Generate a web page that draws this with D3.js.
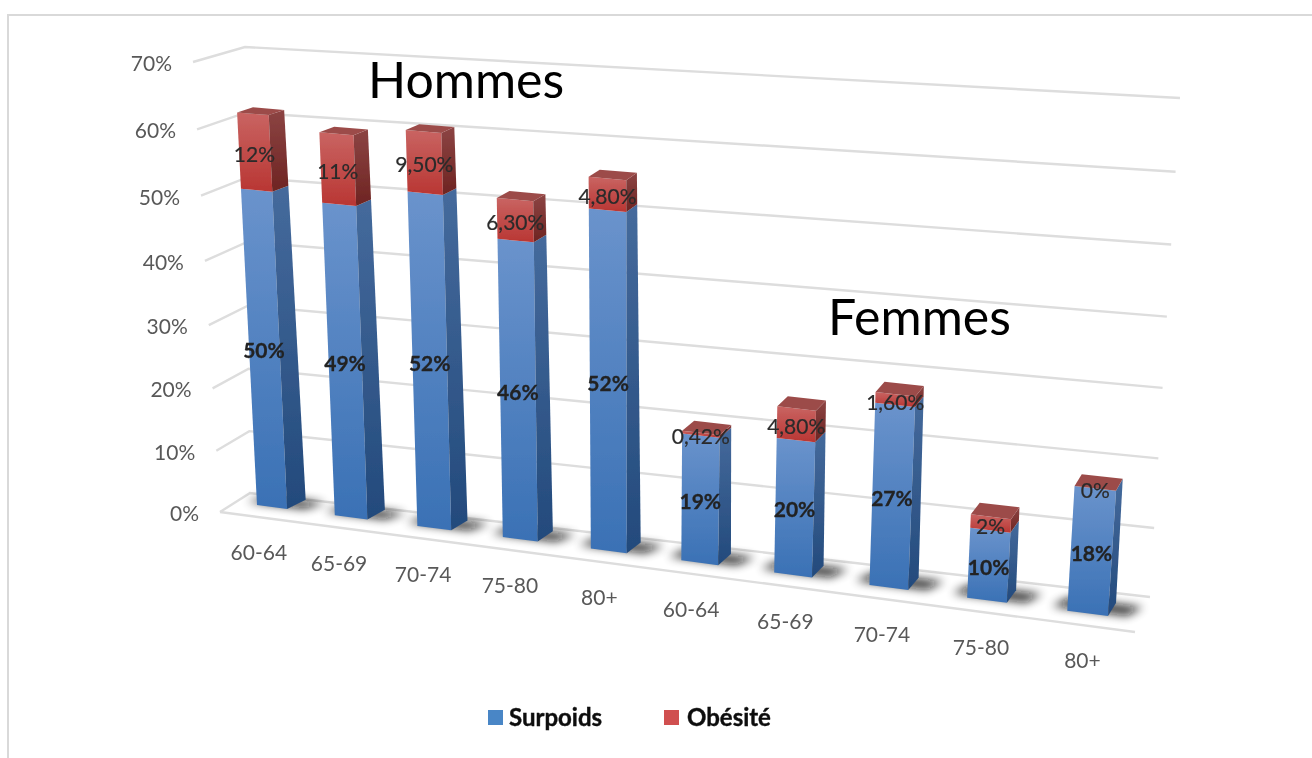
<!DOCTYPE html>
<html>
<head>
<meta charset="utf-8">
<script src="https://d3js.org/d3.v7.min.js"></script>
<style>
html, body { margin: 0; background: #fff; }
text { font-family: Lato, Carlito, "Open Sans", sans-serif; }
</style>
</head>
<body>
<svg width="1312" height="758"></svg>
<script>
var categories = ["60-64", "65-69", "70-74", "75-80", "80+", "60-64", "65-69", "70-74", "75-80", "80+"];
var surpoids = [50, 49, 52, 46, 52, 19, 20, 27, 10, 18];
var obesite = [12, 11, 9.5, 6.3, 4.8, 0.42, 4.8, 1.6, 2, 0];
var surpoidsLabels = ["50%", "49%", "52%", "46%", "52%", "19%", "20%", "27%", "10%", "18%"];
var obesiteLabels = ["12%", "11%", "9,50%", "6,30%", "4,80%", "0,42%", "4,80%", "1,60%", "2%", "0%"];
var ticks = [0, 10, 20, 30, 40, 50, 60, 70];

var root = d3.select("svg");
var defs = root.append("defs");

function grad(id, top, bottom) {
    var g = defs.append("linearGradient").attr("id", id)
        .attr("x1", 0).attr("y1", 0).attr("x2", 0).attr("y2", 1);
    g.append("stop").attr("offset", "0%").attr("stop-color", top);
    g.append("stop").attr("offset", "100%").attr("stop-color", bottom);
}
grad("blueFront", "#6a93cc", "#3a71b5");
grad("blueSide", "#456a9c", "#234a7c");
grad("redFront", "#c96462", "#b93633");
grad("redSide", "#8c4443", "#6e2422");

defs.append("filter").attr("id", "shadowBlur")
    .attr("x", "-40%").attr("y", "-150%").attr("width", "180%").attr("height", "400%")
    .append("feGaussianBlur").attr("stdDeviation", 5);
defs.append("filter").attr("id", "soft")
    .attr("filterUnits", "userSpaceOnUse")
    .attr("x", 0).attr("y", 0).attr("width", 1312).attr("height", 758)
    .append("feGaussianBlur").attr("stdDeviation", 0.55);

var svg = root.append("g").attr("filter", "url(#soft)");

// unit square -> quad (corners: u0v0, u1v0, u1v1, u0v1)
function homography(p) {
    var dx1 = p[1][0] - p[2][0], dx2 = p[3][0] - p[2][0], sx = p[0][0] - p[1][0] + p[2][0] - p[3][0];
    var dy1 = p[1][1] - p[2][1], dy2 = p[3][1] - p[2][1], sy = p[0][1] - p[1][1] + p[2][1] - p[3][1];
    var det = dx1 * dy2 - dx2 * dy1;
    var g = (sx * dy2 - dx2 * sy) / det, h = (dx1 * sy - sx * dy1) / det;
    var a = p[1][0] - p[0][0] + g * p[1][0], b = p[3][0] - p[0][0] + h * p[3][0];
    var d = p[1][1] - p[0][1] + g * p[1][1], e = p[3][1] - p[0][1] + h * p[3][1];
    return function(u, v) {
        var w = g * u + h * v + 1;
        return [(a * u + b * v + p[0][0]) / w, (d * u + e * v + p[0][1]) / w];
    };
}

// box planes for the walls, separate planes for the bars (excel's 3d isn't quite consistent)
var wallFront = homography([[220, 512], [1135, 632], [1163, 127], [193, 62]]);
var wallBack = homography([[250, 493], [1150, 597], [1180, 98], [245, 47]]);
var barFront = homography([[257, 505], [1108, 616], [1139, 133], [234.5, 61]]);
var barBack = homography([[276, 496], [1116, 603], [1142, 124], [250, 56.5]]);

var yScale = d3.scaleLinear().domain([0, 70]).range([0, 1]);
var xScale = d3.scaleBand().domain(d3.range(categories.length)).range([0, 1]).paddingInner(0.6).paddingOuter(0);
// bars bunch up a little more on the left than the plane alone gives
var xWarp = d3.scalePow().exponent(1.03).domain([0, 1]).range([0, 1]);
// and the plane squeezes low values too much
var yWarp = d3.scalePow().exponent(0.96).domain([0, 1]).range([0, 1]);

function lerpPlanes(f, b, z) {
    return [f[0] + (b[0] - f[0]) * z, f[1] + (b[1] - f[1]) * z];
}
function wall(u, value, z) {
    var v = yScale(value);
    return lerpPlanes(wallFront(u, v), wallBack(u, v), z);
}
function bar(u, value, z) {
    var v = yWarp(yScale(value)), w = u > 0 ? xWarp(u) : u;
    return lerpPlanes(barFront(w, v), barBack(w, v), z);
}

var line = d3.line();
function poly(parent, pts, fill) {
    return parent.append("path").attr("d", line(pts) + "Z").attr("fill", fill);
}

// walls
var grid = svg.append("g").attr("fill", "none").attr("stroke", "#dddddd").attr("stroke-width", 2.4);
ticks.forEach(function(t) {
    grid.append("path").attr("d", line([wall(0, t, 0), wall(0, t, 1), wall(1, t, 1)]));
});
grid.append("path").attr("d", line([wall(0, 0, 0), wall(1, 0, 0)]));

// axis labels
svg.append("g").selectAll("text").data(ticks).enter().append("text")
    .attr("x", function(d) { return wall(0, d, 0)[0] - 21; })
    .attr("y", function(d) { return wall(0, d, 0)[1] + 9; })
    .attr("text-anchor", "end")
    .attr("font-size", 21)
    .attr("fill", "#595959")
    .text(function(d) { return d + "%"; });

svg.append("g").selectAll("text").data(categories).enter().append("text")
    .attr("x", function(d, i) {
        var u = xScale(i) + xScale.bandwidth() / 2;
        return bar(u, 0, 0)[0] - 13 + 8 * u;
    })
    .attr("y", function(d, i) {
        var u = xScale(i) + xScale.bandwidth() / 2;
        return bar(u, 0, 0)[1] + 53 + 2 * u;
    })
    .attr("text-anchor", "middle")
    .attr("font-size", 21)
    .attr("fill", "#595959")
    .text(function(d) { return d; });

// shadows on the floor
var shadows = svg.append("g");
categories.forEach(function(c, i) {
    var x0 = xScale(i), x1 = x0 + xScale.bandwidth(), m = xScale.bandwidth() * 0.42;
    poly(shadows, [bar(x0 - m, 0, 0.2), bar(x1 + m, 0, 0.2),
        bar(x1 + m * 1.6, 0, 0.95), bar(x0 - m * 0.4, 0, 0.95)], "#111")
        .attr("opacity", 0.85)
        .attr("filter", "url(#shadowBlur)");
});

// bars
var bars = svg.append("g");
categories.forEach(function(c, i) {
    var x0 = xScale(i), x1 = x0 + xScale.bandwidth();
    var top = surpoids[i] + obesite[i];
    poly(bars, [bar(x0, 0, 0), bar(x1, 0, 0), bar(x1, surpoids[i], 0), bar(x0, surpoids[i], 0)], "url(#blueFront)");
    poly(bars, [bar(x1, 0, 0), bar(x1, 0, 1), bar(x1, surpoids[i], 1), bar(x1, surpoids[i], 0)], "url(#blueSide)");
    poly(bars, [bar(x0, surpoids[i], 0), bar(x1, surpoids[i], 0), bar(x1, top, 0), bar(x0, top, 0)], "url(#redFront)");
    poly(bars, [bar(x1, surpoids[i], 0), bar(x1, surpoids[i], 1), bar(x1, top, 1), bar(x1, top, 0)], "url(#redSide)");
    poly(bars, [bar(x0, top, 0), bar(x1, top, 0), bar(x1, top, 1), bar(x0, top, 1)], "#9c4c4a");
});

// data labels
var dataLabels = svg.append("g").attr("text-anchor", "middle").attr("font-size", 21);
categories.forEach(function(c, i) {
    var mid = xScale(i) + xScale.bandwidth() / 2;
    var p = bar(mid, surpoids[i] / 2, 0);
    dataLabels.append("text").attr("x", p[0]).attr("y", p[1] + 11)
        .attr("font-weight", "bold").attr("fill", "#222")
        .attr("stroke", "#222").attr("stroke-width", 0.3).text(surpoidsLabels[i]);
    var q = bar(mid, surpoids[i] + obesite[i] / 2, 0);
    dataLabels.append("text").attr("x", q[0]).attr("y", q[1] + 10)
        .attr("fill", "#2b2b2b").attr("stroke", "#2b2b2b").attr("stroke-width", 0.2).text(obesiteLabels[i]);
});

// titles
svg.append("text").attr("x", 368).attr("y", 98).attr("font-size", 50).attr("fill", "#000").text("Hommes");
svg.append("text").attr("x", 828).attr("y", 335).attr("font-size", 50).attr("fill", "#000").text("Femmes");

// legend
var legend = svg.append("g").attr("font-size", 24).attr("font-weight", "bold").attr("fill", "#111")
    .attr("stroke", "#111").attr("stroke-width", 0.4);
legend.append("rect").attr("x", 488).attr("y", 710).attr("width", 15).attr("height", 15).attr("fill", "#4a86c6").attr("stroke", "none");
legend.append("text").attr("x", 509).attr("y", 726).text("Surpoids");
legend.append("rect").attr("x", 664).attr("y", 710).attr("width", 15).attr("height", 15).attr("fill", "#d05050").attr("stroke", "none");
legend.append("text").attr("x", 687).attr("y", 726).text("Obésité");

// frame
svg.append("path").attr("d", "M8,758V15H1312").attr("fill", "none").attr("stroke", "#d9d9d9").attr("stroke-width", 2);
</script>
</body>
</html>
